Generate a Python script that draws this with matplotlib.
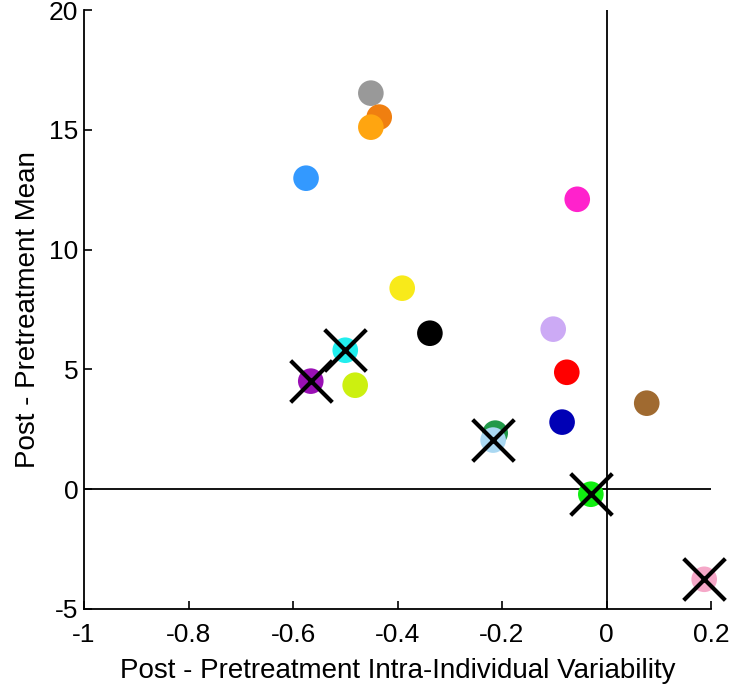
import matplotlib
matplotlib.use("Agg")
import matplotlib.pyplot as plt

plt.rcParams['font.family'] = ['Liberation Sans', 'DejaVu Sans']
plt.rcParams['axes.unicode_minus'] = False

# data
x_vals = [-0.451, -0.435, -0.451, -0.575, -0.056, -0.391, -0.338, -0.102, -0.500, -0.566,
          -0.481, -0.076, 0.077, -0.085, -0.213, -0.217, -0.030, 0.187]
y_vals = [16.53, 15.53, 15.11, 12.98, 12.10, 8.39, 6.51, 6.68, 5.80, 4.51,
          4.34, 4.88, 3.59, 2.80, 2.34, 2.05, -0.21, -3.76]
colors = ['#999999', '#f07f10', '#ffa510', '#3399ff', '#ff22cc', '#f8ea1a', '#000000', '#ccaaf5',
          '#22eeee', '#9a10b5', '#ccf010', '#ff0000', '#a06a30', '#0000b5', '#22994a', '#aad8f2',
          '#11ee11', '#f5a8c8']
crossed = [False, False, False, False, False, False, False, False,
           True, True, False, False, False, False, False, True, True, True]

xticks = [-1, -0.8, -0.6, -0.4, -0.2, 0, 0.2]
xticklabels = ['-1', '-0.8', '-0.6', '-0.4', '-0.2', '0', '0.2']
yticks = [-5, 0, 5, 10, 15, 20]

fig = plt.figure(figsize=(7.33, 6.97), dpi=100)
ax = fig.add_axes([84/733, 88/697, 627/733, 599/697])

ax.axvline(0, color='black', lw=1.3, zorder=1)
ax.axhline(0, color='black', lw=1.3, zorder=1)

ax.scatter(x_vals, y_vals, s=340, c=colors, edgecolors='none', zorder=3, clip_on=False)
cx = [x for x, c in zip(x_vals, crossed) if c]
cy = [y for y, c in zip(y_vals, crossed) if c]
ax.scatter(cx, cy, s=900, marker='x', c='black', linewidths=3, zorder=4, clip_on=False)

ax.set_xlim(-1, 0.2)
ax.set_ylim(-5, 20)
ax.set_xticks(xticks)
ax.set_xticklabels(xticklabels)
ax.set_yticks(yticks)
ax.tick_params(direction='in', length=6, width=1.2, labelsize=19)
ax.tick_params(axis='x', pad=10)
ax.tick_params(axis='y', pad=4)
for s in ['top', 'right']:
    ax.spines[s].set_visible(False)
for s in ['left', 'bottom']:
    ax.spines[s].set_linewidth(1.3)
ax.set_xlabel('Post - Pretreatment Intra-Individual Variability', fontsize=20, labelpad=8)
ax.set_ylabel('Post - Pretreatment Mean', fontsize=20, labelpad=6)

fig.savefig('out.png', dpi=100)
